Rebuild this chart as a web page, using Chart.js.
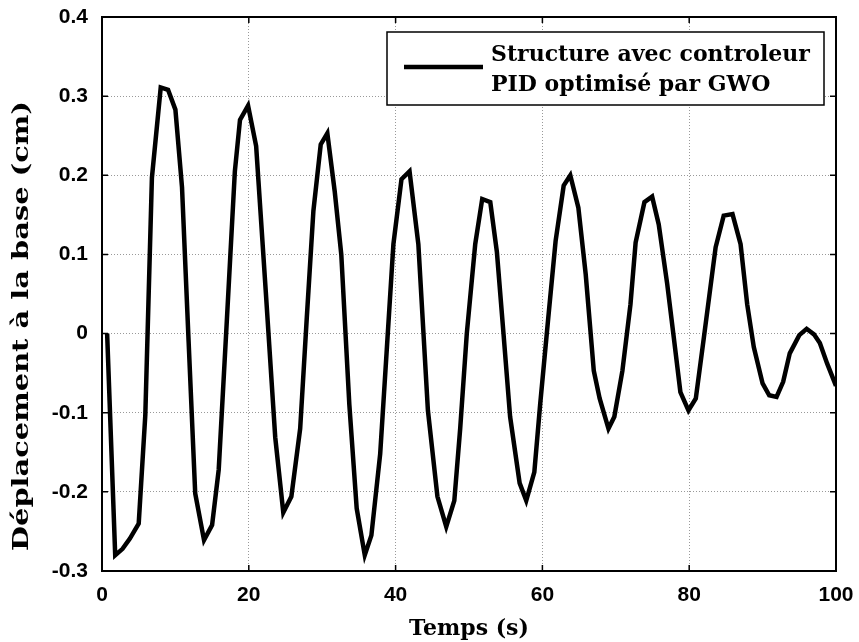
<!DOCTYPE html>
<html>
<head>
<meta charset="utf-8">
<script src="https://cdn.jsdelivr.net/npm/chart.js@4.4.1/dist/chart.umd.min.js"></script>
<style>
  html, body { margin: 0; padding: 0; background: #fff; }
  #wrap { width: 859px; height: 642px; }
</style>
</head>
<body>
<div id="wrap"><canvas id="reponseChart" width="859" height="642"></canvas></div>
<script>
// Temps (s) et déplacement à la base (cm)
const timeS = [
    0.7, 1.8, 2.8, 3.8, 5.0, 5.9, 6.8, 8.0, 9.0, 10.0, 10.9, 11.8, 12.7, 13.9, 15.0, 15.9,
    17.0, 18.1, 18.8, 19.9, 21.0, 22.3, 23.6, 24.7, 25.8, 27.0, 27.9, 28.8, 29.8, 30.7, 31.7,
    32.6, 33.7, 34.7, 35.8, 36.7, 37.9, 38.8, 39.7, 40.8, 41.9, 43.1, 44.4, 45.7, 46.9, 48.0,
    48.8, 49.7, 50.85, 51.8, 52.9, 53.8, 54.7, 55.6, 56.9, 57.8, 58.9, 59.7, 60.8, 61.8, 62.9,
    63.8, 64.9, 65.9, 67.0, 67.8, 69.0, 69.8, 70.9, 72.0, 72.7, 73.9, 74.95, 75.85, 77.0, 77.9,
    78.8, 79.9, 80.9, 82.0, 83.6, 84.7, 85.9, 87.0, 87.9, 88.8, 90.0, 90.9, 91.9, 92.8, 93.7,
    95.0, 96.0, 97.0, 97.8, 98.8, 100.0
];
const deplacementCm = [
    0, -0.280, -0.272, -0.259, -0.240, -0.103, 0.197, 0.311, 0.308, 0.283, 0.185, -0.010, -0.202, -0.261, -0.242, -0.172,
    0.015, 0.205, 0.270, 0.288, 0.237, 0.055, -0.131, -0.226, -0.206, -0.120, 0.020, 0.155, 0.239, 0.253, 0.180,
    0.100, -0.090, -0.221, -0.280, -0.255, -0.152, -0.020, 0.113, 0.195, 0.205, 0.113, -0.097, -0.206, -0.244, -0.211,
    -0.120, 0.000, 0.113, 0.170, 0.166, 0.103, 0.000, -0.105, -0.189, -0.211, -0.175, -0.089, 0.020, 0.117, 0.187,
    0.200, 0.159, 0.075, -0.047, -0.082, -0.120, -0.105, -0.047, 0.037, 0.115, 0.166, 0.173, 0.138, 0.063, -0.005,
    -0.074, -0.097, -0.082, -0.005, 0.109, 0.149, 0.151, 0.113, 0.037, -0.017, -0.063, -0.078, -0.080, -0.061, -0.025,
    -0.002, 0.006, -0.001, -0.012, -0.038, -0.066
];
const legendLines = ['Structure avec controleur', 'PID optimisé par GWO'];
const yTitle = 'Déplacement à la base (cm)';

const tickFont = { family: '"Liberation Sans", Arial, sans-serif', size: 21, weight: 'bold' };
const titleFont = { family: '"DejaVu Serif", serif', size: 22, weight: 'bold' };

// cadre noir + graduations vers l'intérieur sur les quatre côtés
const framePlugin = {
    id: 'frame',
    afterDatasetsDraw(chart) {
        const { ctx, chartArea: a, scales: { x, y } } = chart;
        ctx.save();
        ctx.strokeStyle = '#000';
        ctx.lineWidth = 2;
        ctx.strokeRect(a.left, a.top, a.right - a.left, a.bottom - a.top);
        ctx.lineWidth = 1.5;
        const len = 6;
        x.ticks.forEach(t => {
            const px = x.getPixelForValue(t.value);
            ctx.beginPath();
            ctx.moveTo(px, a.bottom); ctx.lineTo(px, a.bottom - len);
            ctx.moveTo(px, a.top); ctx.lineTo(px, a.top + len);
            ctx.stroke();
        });
        y.ticks.forEach(t => {
            const py = y.getPixelForValue(t.value);
            ctx.beginPath();
            ctx.moveTo(a.left, py); ctx.lineTo(a.left + len, py);
            ctx.moveTo(a.right, py); ctx.lineTo(a.right - len, py);
            ctx.stroke();
        });
        ctx.restore();
    }
};

// titre vertical, police large et étirée
const yTitlePlugin = {
    id: 'yTitle',
    afterDraw(chart) {
        const ctx = chart.ctx;
        ctx.save();
        ctx.translate(22, 326);
        ctx.rotate(-Math.PI / 2);
        ctx.font = 'bold 22px "DejaVu Serif", serif';
        const w = ctx.measureText(yTitle).width;
        ctx.scale(450 / w, 1);
        ctx.fillStyle = '#000';
        ctx.textAlign = 'center';
        ctx.textBaseline = 'middle';
        ctx.fillText(yTitle, 0, 0);
        ctx.restore();
    }
};

// légende encadrée sur deux lignes
const boxLegend = {
    id: 'boxLegend',
    afterDatasetsDraw(chart) {
        const ctx = chart.ctx;
        const bx = 387, by = 32, bw = 437, bh = 73;
        ctx.save();
        ctx.fillStyle = '#fff';
        ctx.fillRect(bx, by, bw, bh);
        ctx.strokeStyle = '#000';
        ctx.lineWidth = 1.5;
        ctx.strokeRect(bx, by, bw, bh);
        ctx.lineWidth = 4.5;
        ctx.beginPath();
        ctx.moveTo(404, 67);
        ctx.lineTo(483, 67);
        ctx.stroke();
        ctx.fillStyle = '#000';
        ctx.font = 'bold 22px "DejaVu Serif", serif';
        ctx.textBaseline = 'middle';
        ctx.fillText(legendLines[0], 491, 55);
        ctx.fillText(legendLines[1], 491, 85);
        ctx.restore();
    }
};

const ctx = document.getElementById('reponseChart').getContext('2d');
new Chart(ctx, {
    type: 'line',
    data: {
        datasets: [{
            label: legendLines.join(' '),
            data: timeS.map((t, i) => ({ x: t, y: deplacementCm[i] })),
            borderColor: '#000',
            borderWidth: 4.5,
            pointRadius: 0,
            tension: 0,
            fill: false,
        }],
    },
    options: {
        responsive: false,
        animation: false,
        layout: { padding: { top: 17, right: 23, left: 0, bottom: 0 } },
        plugins: {
            legend: { display: false },
            tooltip: { enabled: false },
        },
        scales: {
            x: {
                type: 'linear',
                min: 0,
                max: 100,
                ticks: { stepSize: 20, color: '#000', font: tickFont, padding: 12, maxRotation: 0 },
                grid: { color: '#999', lineWidth: 1, drawTicks: false },
                border: { display: false, dash: [1, 2] },
                title: { display: true, text: 'Temps (s)', color: '#000', font: titleFont, padding: { top: 4, bottom: 0 } },
                afterFit(scale) {
                    scale.height = 71;
                    scale.paddingLeft = 0;
                    scale.paddingRight = 0;
                },
            },
            y: {
                min: -0.3,
                max: 0.4,
                ticks: {
                    stepSize: 0.1,
                    color: '#000',
                    font: tickFont,
                    padding: 14,
                    callback: v => (Math.abs(v) < 1e-9 ? '0' : v.toFixed(1)),
                },
                grid: { color: '#999', lineWidth: 1, drawTicks: false },
                border: { display: false, dash: [1, 2] },
                afterFit(scale) {
                    scale.width = 102;
                    scale.paddingTop = 0;
                    scale.paddingBottom = 0;
                },
            },
        },
    },
    plugins: [framePlugin, boxLegend, yTitlePlugin],
});
</script>
</body>
</html>
